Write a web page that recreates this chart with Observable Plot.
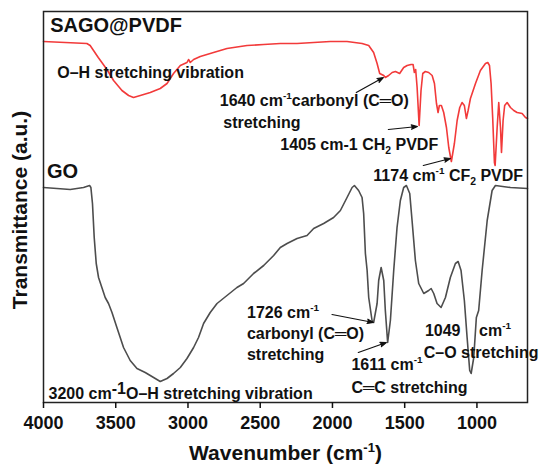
<!DOCTYPE html>
<html><head><meta charset="utf-8">
<script src="https://cdn.jsdelivr.net/npm/d3@7"></script>
<script src="https://cdn.jsdelivr.net/npm/@observablehq/plot@0.6"></script>
<style>
body{margin:0;background:#fff;}
#chart svg{display:block;}
</style></head><body><div id="chart"></div>
<script>
// SAGO@PVDF spectrum (wavenumber cm-1, transmittance a.u.)
const sagoWave = [4000,3700,3677,3621,3561,3515,3457,3411,3377,3330,3261,3192,3145,3100,3053,3007,2996,2984,2961,2915,2823,2730,2638,2591,2476,2361,2245,2130,2015,1899,1795,1749,1715,1691,1673,1645,1634,1611,1587,1564,1535,1507,1483,1456,1442,1433,1424,1414,1400,1387,1375,1357,1334,1310,1294,1280,1269,1260,1246,1230,1211,1195,1177,1156,1137,1119,1103,1087,1073,1061,1045,1010,976,941,925,913,902,891,879,874,860,849,837,830,819,808,791,768,745,722,687,664,650];
const sagoT    = [361,359,357,345,333,322,312,307,305,307,310,314,319,329,337,340,343,340,343,346,350,354,356,357,358,359,359,360,361,361,359,357,350,339,329,327,325,327,330,331,329,335,337,338,338,330,333,315,277,312,329,331,330,327,319,299,290,297,297,290,275,255,241,259,282,295,300,297,284,292,304,319,332,339,340,337,319,285,240,237,275,300,275,250,282,297,300,295,292,290,289,285,284];

// GO spectrum
const goWave = [4000,3907,3815,3769,3723,3681,3672,3661,3649,3635,3619,3596,3573,3550,3526,3492,3446,3400,3353,3296,3238,3192,3145,3100,3053,3007,2961,2927,2892,2846,2799,2730,2661,2615,2546,2476,2407,2361,2314,2245,2176,2130,2061,1992,1945,1899,1864,1848,1819,1795,1784,1772,1760,1749,1726,1715,1691,1680,1663,1645,1634,1618,1599,1576,1553,1530,1507,1488,1465,1449,1426,1403,1368,1334,1317,1299,1276,1248,1218,1184,1149,1130,1110,1087,1068,1050,1040,1022,1004,988,964,929,895,872,768,650];
const goT    = [215,214,213,214,215,217,215,199,165,139,125,115,105,99,90,75,55,42,34,30,25,21,24,29,35,44,55,65,79,90,99,107,115,119,129,137,147,155,159,164,167,174,179,185,192,205,215,217,212,205,189,149,132,105,82,80,99,122,135,122,92,60,82,132,175,202,215,217,209,182,142,119,109,112,114,109,99,95,105,125,139,141,132,102,65,32,29,45,85,92,132,182,212,217,215,214];

const xTicks = [4000,3500,3000,2500,2000,1500,1000];

// Sample names
const sampleNames = ["SAGO@PVDF", "GO"];
const sampleNameWave = [3954, 3976];
const sampleNameT = [377, 231];

// Peak annotations
const noteText = [
  "O–H stretching vibration",
  "1640 cm^{-1}carbonyl (C═O)",
  "stretching",
  "1405 cm-1 CH_{2} PVDF",
  "1174 cm^{-1} CF_{2} PVDF",
  "1726 cm^{-1}",
  "carbonyl (C═O)",
  "stretching",
  "1611 cm^{-1}",
  "C═C stretching",
  "1049",
  "cm^{-1}",
  "C–O stretching",
  "3200 cm^^{-1}O–H stretching vibration"
];
const noteWave = [3905, 2780, 2756, 2361, 1717, 2591, 2592, 2592, 1869, 1869, 1360, 985, 1368, 3965];
const noteT    = [330, 302, 280, 258, 227, 90, 69, 48, 38, 15, 72, 72, 50, 9];

// Arrows: from (wave, T) to (wave, T)
const arrowFromWave = [1835, 1613, 1371, 2003, 1821];
const arrowFromT    = [310, 273, 237, 88, 50];
const arrowToWave   = [1648, 1412, 1184, 1717, 1627];
const arrowToT      = [325, 276, 244, 80, 60];

const sago = sagoWave.map((w, i) => ({w, t: sagoT[i]}));
const go = goWave.map((w, i) => ({w, t: goT[i]}));
const names = sampleNames.map((label, i) => ({label, w: sampleNameWave[i], t: sampleNameT[i]}));
const notes = noteText.map((label, i) => ({label, w: noteWave[i], t: noteT[i]}));
const arrows = arrowFromWave.map((x1, i) => ({x1, y1: arrowFromT[i], x2: arrowToWave[i], y2: arrowToT[i]}));

const FONT = '"Liberation Sans", Arial, Helvetica, sans-serif';

const plot = Plot.plot({
  width: 542, height: 464,
  marginLeft: 43, marginRight: 15, marginTop: 11, marginBottom: 62,
  style: {fontFamily: FONT, fontWeight: "bold", color: "#111", background: "#fff", overflow: "visible"},
  x: {domain: [4000, 650]},
  y: {domain: [0, 391], axis: null},
  marks: [
    Plot.line(go, {x: "w", y: "t", stroke: "#4d4d4d", strokeWidth: 1.6}),
    Plot.line(sago, {x: "w", y: "t", stroke: "#f23a3a", strokeWidth: 1.6}),
    Plot.frame({stroke: "#222", strokeWidth: 1.5}),
    Plot.axisX({ticks: xTicks, tickSize: 6, tickPadding: 8, tickFormat: d => String(d), fontSize: 18, fontWeight: "bold", label: null, strokeWidth: 1.5}),
    Plot.arrow(arrows, {x1: "x1", y1: "y1", x2: "x2", y2: "y2", stroke: "#111", fill: "#111", strokeWidth: 1.2, headLength: 8, headAngle: 40}),
    Plot.text(names, {x: "w", y: "t", text: "label", textAnchor: "start", lineAnchor: "middle", fontSize: 20, fontWeight: "bold", fill: "#111"}),
    Plot.text(notes, {x: "w", y: "t", text: "label", textAnchor: "start", lineAnchor: "middle", fontSize: 16, fontWeight: "bold", fill: "#111"}),
    Plot.text(["Wavenumber (cm^{-1})"], {text: d => d, frameAnchor: "bottom", textAnchor: "middle", lineAnchor: "middle", dy: 51, fontSize: 21, fontWeight: "bold", fill: "#111"}),
    Plot.text(["Transmittance (a.u.)"], {text: d => d, frameAnchor: "left", textAnchor: "middle", lineAnchor: "middle", rotate: -90, dx: -23, dy: 3, fontSize: 21, fontWeight: "bold", fill: "#111"})
  ]
});

document.getElementById("chart").appendChild(plot);

// filled arrow heads
d3.select(plot).selectAll('g[aria-label="arrow"] path').attr("fill", "#111");

// superscripts / subscripts
const NS = "http://www.w3.org/2000/svg";
plot.querySelectorAll("text").forEach(t => {
  const s = t.textContent;
  if (!/[\^_]\{/.test(s) || t.querySelector("tspan")) return;
  const fs = parseFloat(getComputedStyle(t).fontSize) || 16;
  t.textContent = "";
  let cur = 0;
  const add = (str, size, target) => {
    const sp = document.createElementNS(NS, "tspan");
    sp.textContent = str;
    if (size) sp.setAttribute("font-size", size);
    const dy = target - cur;
    if (dy) sp.setAttribute("dy", dy);
    cur = target;
    t.appendChild(sp);
  };
  const re = /(\^\^|\^|_)\{([^}]*)\}/g;
  let last = 0, m;
  while ((m = re.exec(s))) {
    if (m.index > last) add(s.slice(last, m.index), null, 0);
    if (m[1] === "^") add(m[2], 0.62 * fs, -0.4 * fs);
    else if (m[1] === "^^") add(m[2], 1.0 * fs, -0.28 * fs);
    else add(m[2], 0.65 * fs, 0.25 * fs);
    last = re.lastIndex;
  }
  if (last < s.length) add(s.slice(last), null, 0);
});
</script>
</body></html>
